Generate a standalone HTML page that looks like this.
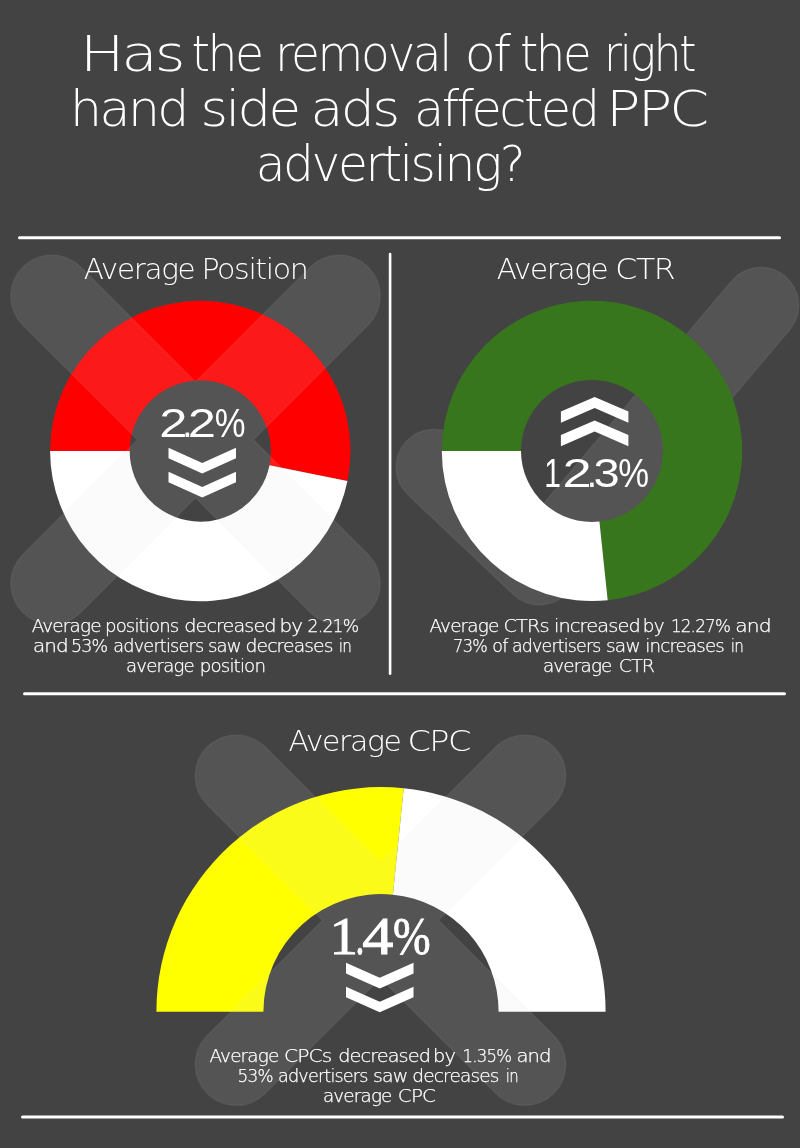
<!DOCTYPE html>
<html lang="en">
<head>
<meta charset="utf-8">
<title>Has the removal of the right hand side ads affected PPC advertising?</title>
<style>html,body{margin:0;padding:0;background:#434343}svg{display:block}text{font-variant-ligatures:none}</style>
</head>
<body>
<svg width="800" height="1148" viewBox="0 0 800 1148">
<rect width="800" height="1148" fill="#434343"/>
<g stroke="#fff" stroke-linecap="round" fill="none">
<line x1="19.5" y1="237.8" x2="779.5" y2="237.8" stroke-width="3"/>
<line x1="24.5" y1="693.8" x2="784.5" y2="693.8" stroke-width="3"/>
<line x1="22.5" y1="1117" x2="782.5" y2="1117" stroke-width="3"/>
<line x1="390.1" y1="254" x2="390.1" y2="673.8" stroke-width="2.6"/>
</g>
<path d="M50.10 451.05A150.2 150.2 0 1 1 347.48 481.00L269.48 465.13A70.6 70.6 0 1 0 129.70 451.05Z" fill="#ff0000"/>
<path d="M347.48 481.00A150.2 150.2 0 0 1 50.10 451.05L129.70 451.05A70.6 70.6 0 0 0 269.48 465.13Z" fill="#ffffff"/>
<path d="M195.50 381.82L310.51 266.81A41 41 0 0 1 368.49 324.79L253.48 439.80L368.49 554.81A41 41 0 0 1 310.51 612.79L195.50 497.78L80.49 612.79A41 41 0 0 1 22.51 554.81L137.52 439.80L22.51 324.79A41 41 0 0 1 80.49 266.81Z" fill="rgba(224,224,224,0.115)" stroke="rgba(230,230,230,0.07)" stroke-width="1.5"/>
<path d="M407.89 494.81L513.53 594.71A37.9 37.9 0 0 0 568.52 591.64L790.02 329.53A38 38 0 0 0 731.98 280.47L536.48 511.81L460.11 439.59A38 38 0 0 0 407.89 494.81Z" fill="rgba(224,224,224,0.115)" stroke="rgba(230,230,230,0.07)" stroke-width="1.5"/>
<path d="M441.80 450.90A150.2 150.2 0 1 1 607.70 600.28L599.42 521.51A71 71 0 1 0 521.00 450.90Z" fill="#38761d"/>
<path d="M607.70 600.28A150.2 150.2 0 0 1 441.80 450.90L521.00 450.90A71 71 0 0 0 599.42 521.51Z" fill="#ffffff"/>
<path d="M156.40 1011.70A224.6 224.6 0 0 1 403.70 788.25L392.88 894.70A117.6 117.6 0 0 0 263.40 1011.70Z" fill="#ffff00"/>
<path d="M403.70 788.25A224.6 224.6 0 0 1 605.60 1011.70L498.60 1011.70A117.6 117.6 0 0 0 392.88 894.70Z" fill="#ffffff"/>
<path d="M380.50 862.22L496.11 746.61A41 41 0 0 1 554.09 804.59L438.48 920.20L554.09 1035.81A41 41 0 0 1 496.11 1093.79L380.50 978.18L264.89 1093.79A41 41 0 0 1 206.91 1035.81L322.52 920.20L206.91 804.59A41 41 0 0 1 264.89 746.61Z" fill="rgba(224,224,224,0.115)" stroke="rgba(230,230,230,0.07)" stroke-width="1.5"/>
<g fill="#fff">
<path d="M168.50 447.75L202.25 463.00L236.00 447.75L236.00 458.15L202.25 473.40L168.50 458.15Z"/>
<path d="M168.50 471.75L202.25 487.00L236.00 471.75L236.00 482.15L202.25 497.40L168.50 482.15Z"/>
<path d="M594.65 396.90L628.40 411.60L628.40 422.80L594.65 408.10L560.90 422.80L560.90 411.60Z"/>
<path d="M594.65 420.40L628.40 435.10L628.40 446.30L594.65 431.60L560.90 446.30L560.90 435.10Z"/>
<path d="M346.00 962.80L379.75 977.80L413.50 962.80L413.50 973.40L379.75 988.40L346.00 973.40Z"/>
<path d="M346.00 986.70L379.75 1001.70L413.50 986.70L413.50 997.30L379.75 1012.30L346.00 997.30Z"/>
</g>
<text y="71" font-size="49" font-family='"DejaVu Sans Light","DejaVu Sans","Liberation Sans",sans-serif' font-weight="200" fill="#fff" letter-spacing="-2.5"><tspan x="80.06" textLength="102.43" lengthAdjust="spacingAndGlyphs">Has</tspan> <tspan x="191.39" textLength="70.33" lengthAdjust="spacingAndGlyphs">the</tspan> <tspan x="275.12" textLength="174.87" lengthAdjust="spacingAndGlyphs">removal</tspan> <tspan x="464.81" textLength="43.78" lengthAdjust="spacingAndGlyphs">of</tspan> <tspan x="519.92" textLength="69.49" lengthAdjust="spacingAndGlyphs">the</tspan> <tspan x="604.09" textLength="90.13" lengthAdjust="spacingAndGlyphs">right</tspan></text>
<text y="126.2" font-size="49" font-family='"DejaVu Sans Light","DejaVu Sans","Liberation Sans",sans-serif' font-weight="200" fill="#fff" letter-spacing="-2.5"><tspan x="70.02" textLength="116.86" lengthAdjust="spacingAndGlyphs">hand</tspan> <tspan x="200.61" textLength="97.83" lengthAdjust="spacingAndGlyphs">side</tspan> <tspan x="310.61" textLength="86.89" lengthAdjust="spacingAndGlyphs">ads</tspan> <tspan x="413.95" textLength="183.68" lengthAdjust="spacingAndGlyphs">affected</tspan> <tspan x="606.09" textLength="100.27" lengthAdjust="spacingAndGlyphs">PPC</tspan></text>
<text y="180.6" font-size="49" font-family='"DejaVu Sans Light","DejaVu Sans","Liberation Sans",sans-serif' font-weight="200" fill="#fff" letter-spacing="-2.5"><tspan x="255.72" textLength="267.38" lengthAdjust="spacingAndGlyphs">advertising?</tspan></text>
<text y="279.1" font-size="28" font-family='"DejaVu Sans Light","DejaVu Sans","Liberation Sans",sans-serif' font-weight="200" fill="#fff" letter-spacing="-1.3"><tspan x="83.81" textLength="110.44" lengthAdjust="spacingAndGlyphs">Average</tspan> <tspan x="201.41" textLength="106.06" lengthAdjust="spacingAndGlyphs">Position</tspan></text>
<text y="279.1" font-size="28" font-family='"DejaVu Sans Light","DejaVu Sans","Liberation Sans",sans-serif' font-weight="200" fill="#fff" letter-spacing="-1.3"><tspan x="496.81" textLength="110.44" lengthAdjust="spacingAndGlyphs">Average</tspan> <tspan x="615.37" textLength="58.81" lengthAdjust="spacingAndGlyphs">CTR</tspan></text>
<text y="751.4" font-size="28" font-family='"DejaVu Sans Light","DejaVu Sans","Liberation Sans",sans-serif' font-weight="200" fill="#fff" letter-spacing="-1.3"><tspan x="288.40" textLength="112.07" lengthAdjust="spacingAndGlyphs">Average</tspan> <tspan x="407.40" textLength="62.42" lengthAdjust="spacingAndGlyphs">CPC</tspan></text>
<text y="631.6" font-size="17.2" font-family='"DejaVu Sans Light","DejaVu Sans","Liberation Sans",sans-serif' font-weight="200" fill="#fff" stroke="#fff" stroke-width="0.25" letter-spacing="-0.8"><tspan x="31.66" textLength="68.99" lengthAdjust="spacingAndGlyphs">Average</tspan> <tspan x="105.00" textLength="73.41" lengthAdjust="spacingAndGlyphs">positions</tspan> <tspan x="184.21" textLength="91.44" lengthAdjust="spacingAndGlyphs">decreased</tspan> <tspan x="279.48" textLength="22.57" lengthAdjust="spacingAndGlyphs">by</tspan> <tspan x="307.54" textLength="50.85" lengthAdjust="spacingAndGlyphs">2.21%</tspan></text>
<text y="651.8" font-size="17.2" font-family='"DejaVu Sans Light","DejaVu Sans","Liberation Sans",sans-serif' font-weight="200" fill="#fff" stroke="#fff" stroke-width="0.25" letter-spacing="-0.8"><tspan x="33.05" textLength="34.78" lengthAdjust="spacingAndGlyphs">and</tspan> <tspan x="70.92" textLength="36.36" lengthAdjust="spacingAndGlyphs">53%</tspan> <tspan x="113.32" textLength="89.98" lengthAdjust="spacingAndGlyphs">advertisers</tspan> <tspan x="207.98" textLength="32.93" lengthAdjust="spacingAndGlyphs">saw</tspan> <tspan x="245.54" textLength="87.11" lengthAdjust="spacingAndGlyphs">decreases</tspan> <tspan x="338.76" textLength="12.42" lengthAdjust="spacingAndGlyphs">in</tspan></text>
<text y="672" font-size="17.2" font-family='"DejaVu Sans Light","DejaVu Sans","Liberation Sans",sans-serif' font-weight="200" fill="#fff" stroke="#fff" stroke-width="0.25" letter-spacing="-0.8"><tspan x="126.08" textLength="67.70" lengthAdjust="spacingAndGlyphs">average</tspan> <tspan x="199.78" textLength="65.33" lengthAdjust="spacingAndGlyphs">position</tspan></text>
<text y="632" font-size="17.2" font-family='"DejaVu Sans Light","DejaVu Sans","Liberation Sans",sans-serif' font-weight="200" fill="#fff" stroke="#fff" stroke-width="0.25" letter-spacing="-0.8"><tspan x="429.47" textLength="68.89" lengthAdjust="spacingAndGlyphs">Average</tspan> <tspan x="503.49" textLength="45.23" lengthAdjust="spacingAndGlyphs">CTRs</tspan> <tspan x="554.03" textLength="85.85" lengthAdjust="spacingAndGlyphs">increased</tspan> <tspan x="642.87" textLength="20.78" lengthAdjust="spacingAndGlyphs">by</tspan> <tspan x="670.90" textLength="59.14" lengthAdjust="spacingAndGlyphs">12.27%</tspan> <tspan x="735.33" textLength="35.32" lengthAdjust="spacingAndGlyphs">and</tspan></text>
<text y="652" font-size="17.2" font-family='"DejaVu Sans Light","DejaVu Sans","Liberation Sans",sans-serif' font-weight="200" fill="#fff" stroke="#fff" stroke-width="0.25" letter-spacing="-0.8"><tspan x="453.12" textLength="33.96" lengthAdjust="spacingAndGlyphs">73%</tspan> <tspan x="492.33" textLength="15.24" lengthAdjust="spacingAndGlyphs">of</tspan> <tspan x="511.93" textLength="88.66" lengthAdjust="spacingAndGlyphs">advertisers</tspan> <tspan x="606.05" textLength="33.68" lengthAdjust="spacingAndGlyphs">saw</tspan> <tspan x="645.35" textLength="78.52" lengthAdjust="spacingAndGlyphs">increases</tspan> <tspan x="730.76" textLength="12.42" lengthAdjust="spacingAndGlyphs">in</tspan></text>
<text y="672" font-size="17.2" font-family='"DejaVu Sans Light","DejaVu Sans","Liberation Sans",sans-serif' font-weight="200" fill="#fff" stroke="#fff" stroke-width="0.25" letter-spacing="-0.8"><tspan x="542.97" textLength="68.52" lengthAdjust="spacingAndGlyphs">average</tspan> <tspan x="618.82" textLength="35.36" lengthAdjust="spacingAndGlyphs">CTR</tspan></text>
<text y="1062" font-size="17.2" font-family='"DejaVu Sans Light","DejaVu Sans","Liberation Sans",sans-serif' font-weight="200" fill="#fff" stroke="#fff" stroke-width="0.25" letter-spacing="-0.8"><tspan x="209.47" textLength="68.89" lengthAdjust="spacingAndGlyphs">Average</tspan> <tspan x="284.13" textLength="47.22" lengthAdjust="spacingAndGlyphs">CPCs</tspan> <tspan x="338.20" textLength="91.85" lengthAdjust="spacingAndGlyphs">decreased</tspan> <tspan x="433.05" textLength="21.90" lengthAdjust="spacingAndGlyphs">by</tspan> <tspan x="462.52" textLength="48.67" lengthAdjust="spacingAndGlyphs">1.35%</tspan> <tspan x="516.48" textLength="34.13" lengthAdjust="spacingAndGlyphs">and</tspan></text>
<text y="1082.25" font-size="17.2" font-family='"DejaVu Sans Light","DejaVu Sans","Liberation Sans",sans-serif' font-weight="200" fill="#fff" stroke="#fff" stroke-width="0.25" letter-spacing="-0.8"><tspan x="237.48" textLength="35.20" lengthAdjust="spacingAndGlyphs">53%</tspan> <tspan x="278.02" textLength="89.57" lengthAdjust="spacingAndGlyphs">advertisers</tspan> <tspan x="373.13" textLength="34.22" lengthAdjust="spacingAndGlyphs">saw</tspan> <tspan x="412.35" textLength="86.19" lengthAdjust="spacingAndGlyphs">decreases</tspan> <tspan x="505.79" textLength="12.17" lengthAdjust="spacingAndGlyphs">in</tspan></text>
<text y="1102" font-size="17.2" font-family='"DejaVu Sans Light","DejaVu Sans","Liberation Sans",sans-serif' font-weight="200" fill="#fff" stroke="#fff" stroke-width="0.25" letter-spacing="-0.8"><tspan x="322.97" textLength="68.52" lengthAdjust="spacingAndGlyphs">average</tspan> <tspan x="397.84" textLength="37.27" lengthAdjust="spacingAndGlyphs">CPC</tspan></text>
<text y="436.5" font-size="39.8" font-family='"Liberation Sans",sans-serif' font-weight="400" fill="#fff"><tspan x="159.20" textLength="28.20" lengthAdjust="spacingAndGlyphs">2</tspan><tspan x="182.36" textLength="10.23" lengthAdjust="spacingAndGlyphs">.</tspan><tspan x="187.70" textLength="28.20" lengthAdjust="spacingAndGlyphs">2</tspan><tspan x="214.66" textLength="30.80" lengthAdjust="spacingAndGlyphs">%</tspan></text>
<text y="487.0" font-size="39.8" font-family='"Liberation Sans",sans-serif' font-weight="400" fill="#fff"><tspan x="544.24" textLength="16.68" lengthAdjust="spacingAndGlyphs">1</tspan><tspan x="562.62" textLength="29.11" lengthAdjust="spacingAndGlyphs">2</tspan><tspan x="586.86" textLength="10.23" lengthAdjust="spacingAndGlyphs">.</tspan><tspan x="593.47" textLength="26.21" lengthAdjust="spacingAndGlyphs">3</tspan><tspan x="618.16" textLength="30.80" lengthAdjust="spacingAndGlyphs">%</tspan></text>
<text y="954.4" font-size="53.5" font-family='"Liberation Serif",serif' font-weight="400" fill="#fff" stroke="#fff" stroke-width="0.9"><tspan x="329.43" textLength="28.53" lengthAdjust="spacingAndGlyphs">1</tspan><tspan x="355.48" textLength="8.85" lengthAdjust="spacingAndGlyphs">.</tspan><tspan x="362.24" textLength="31.14" lengthAdjust="spacingAndGlyphs">4</tspan><tspan x="392.92" textLength="37.61" lengthAdjust="spacingAndGlyphs">%</tspan></text>
</svg>
</body>
</html>
